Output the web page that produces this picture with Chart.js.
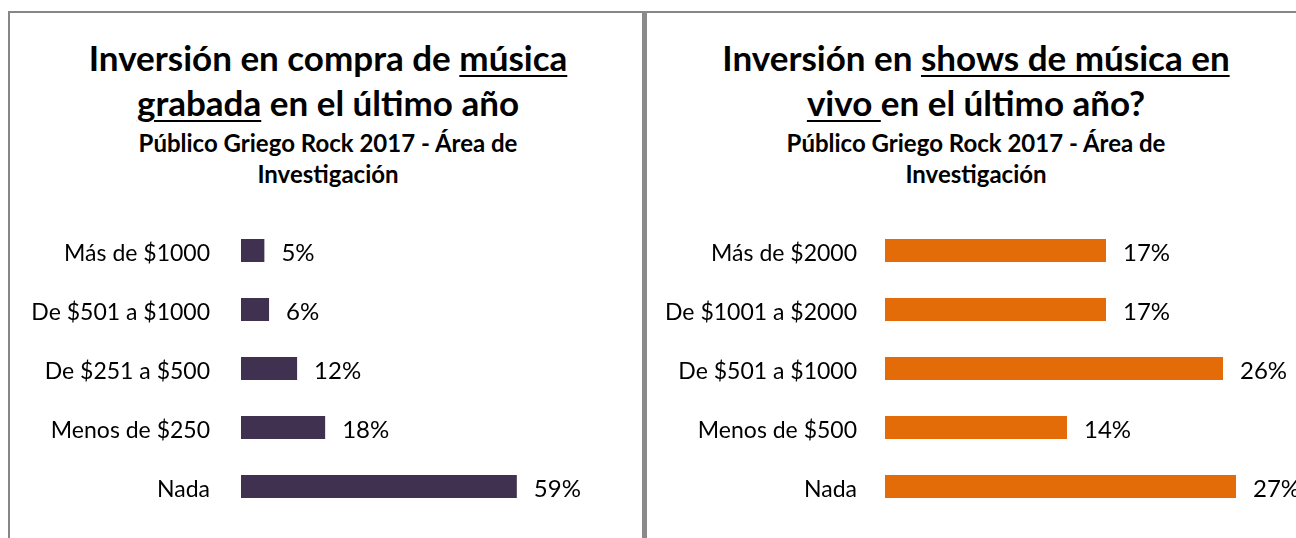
<!DOCTYPE html>
<html>
<head>
<meta charset="utf-8">
<script src="https://cdn.jsdelivr.net/npm/chart.js@4.4.1/dist/chart.umd.min.js"></script>
<style>
  html, body { margin: 0; padding: 0; background: #fff; }
  body { width: 1296px; height: 538px; position: relative; overflow: hidden; font-family: Lato, "Open Sans", sans-serif; color: #000; }
  .panel { position: absolute; top: 11px; border-top: 2px solid #868686; height: 540px; }
  #leftPanel { left: 8px; width: 634px; border-left: 2px solid #868686; }
  #rightPanel { left: 647px; width: 660px; }
  #divider { position: absolute; left: 642px; top: 11px; width: 5px; height: 540px; background: #8a8a8a; }
  .line { position: absolute; width: 700px; text-align: center; font-weight: bold; white-space: nowrap; }
  .t { font-size: 35px; height: 44px; line-height: 44px; }
  .s { font-size: 24px; height: 30px; line-height: 30px; }
  u { text-decoration-thickness: 2px; text-underline-offset: 4px; }
  canvas { position: absolute; }
</style>
</head>
<body>
<div class="panel" id="leftPanel"></div>
<div class="panel" id="rightPanel"></div>
<div id="divider"></div>

<div class="line t" style="left:-22px; top:35px;">Inversión en compra de <u>música</u></div>
<div class="line t" style="left:-22px; top:80px;"><u>grabada</u> en el último año</div>
<div class="line s" style="left:-22px; top:128px;">Público Griego Rock 2017 - Área de</div>
<div class="line s" style="left:-22px; top:159px;">Investigación</div>

<div class="line t" style="left:626px; top:35px;">Inversión en <u>shows de música en</u></div>
<div class="line t" style="left:626px; top:80px;"><u>vivo </u>en el último año?</div>
<div class="line s" style="left:626px; top:128px;">Público Griego Rock 2017 - Área de</div>
<div class="line s" style="left:626px; top:159px;">Investigación</div>

<canvas id="recordedChart" width="630" height="338" style="left:10px; top:200px;"></canvas>
<canvas id="liveChart" width="648" height="338" style="left:648px; top:200px;"></canvas>

<script>
const recordedLabels = ['Más de $1000', 'De $501 a $1000', 'De $251 a $500', 'Menos de $250', 'Nada'];
const recordedValues = [5, 6, 12, 18, 59];

const liveLabels = ['Más de $2000', 'De $1001 a $2000', 'De $501 a $1000', 'Menos de $500', 'Nada'];
const liveValues = [17, 17, 26, 14, 27];

const labelFont = { family: 'Lato, "Open Sans", sans-serif', size: 23 };

// draws "NN%" just past the end of every bar
const valueLabels = {
    id: 'valueLabels',
    afterDatasetsDraw(chart) {
        const ctx = chart.ctx;
        ctx.save();
        ctx.font = '24px ' + labelFont.family;
        ctx.fillStyle = '#000';
        ctx.textAlign = 'left';
        ctx.textBaseline = 'middle';
        chart.getDatasetMeta(0).data.forEach((bar, i) => {
            ctx.fillText(chart.data.datasets[0].data[i] + '%', bar.x + 17, bar.y + 3);
        });
        ctx.restore();
    }
};

function makeChart(id, labels, values, color, xMax, axisWidth, gap, padRight) {
    return new Chart(document.getElementById(id), {
        type: 'bar',
        data: {
            labels: labels,
            datasets: [{
                data: values,
                backgroundColor: color,
                borderWidth: 0,
                categoryPercentage: 1,
                barPercentage: 0.39
            }]
        },
        options: {
            indexAxis: 'y',
            responsive: false,
            animation: false,
            layout: { padding: { top: 21, bottom: 22, left: 0, right: padRight } },
            plugins: { legend: { display: false }, tooltip: { enabled: false } },
            scales: {
                x: { min: 0, max: xMax, display: false },
                y: {
                    // tickLength (not ticks.padding) makes the gap, so no extra vertical padding
                    grid: { display: false, drawTicks: true, tickLength: gap },
                    border: { display: false },
                    ticks: { color: '#000', font: labelFont, padding: 0, labelOffset: 3 },
                    afterFit: scale => { scale.width = axisWidth; }
                }
            }
        },
        plugins: [valueLabels]
    });
}

makeChart('recordedChart', recordedLabels, recordedValues, '#403151', 80, 231, 31, 25);
makeChart('liveChart', liveLabels, liveValues, '#e36c09', 30, 237, 28, 21);
</script>
</body>
</html>
